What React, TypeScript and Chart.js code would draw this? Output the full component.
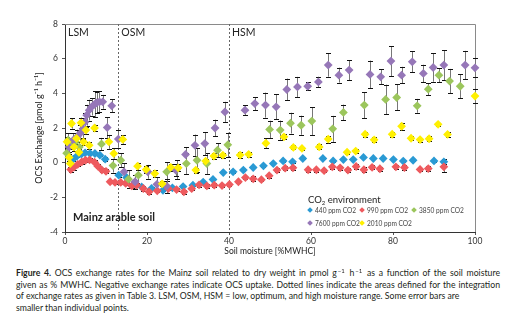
import React, { useEffect, useRef } from "react";
import { Chart, registerables } from "chart.js";
Chart.register(...registerables);

const xTicks = [0, 20, 40, 60, 80, 100];
const yTicks = [-4, -2, 0, 2, 4, 6, 8];
const zoneBounds = [13, 40];
const zoneLabels = ["LSM", "OSM", "HSM"];
const seriesNames = ["440 ppm CO2", "990 ppm CO2", "3850 ppm CO2", "7600 ppm CO2", "2010 ppm CO2"];
const seriesColors = ["#2A9AD4", "#EE5A5E", "#9CC65C", "#9677B8", "#FFF000"];

// [soil moisture %MWHC, OCS exchange, error]
const s440: number[][] = [
  [1.0, 0.3, 0.1], [2.0, 0.2, 0.1], [3.0, 0.4, 0.1], [4.0, 0.5, 0.08], [4.9, 0.57, 0.08], [6.1, 0.53, 0.05],
  [7.3, 0.53, 0.05], [8.5, 0.43, 0.05], [9.8, 0.2, 0.1], [13.1, -0.72, 0.08], [15.0, -0.85, 0.08], [16.9, -1.2, 0.08],
  [18.7, -1.4, 0.06], [21.1, -1.49, 0.06], [23.9, -1.59, 0.06], [26.2, -1.45, 0.06], [28.8, -1.38, 0.05], [31.2, -1.3, 0.05],
  [33.7, -1.12, 0.05], [36.1, -0.97, 0.05], [38.6, -0.57, 0.05], [41.0, -0.53, 0.05], [43.5, -0.43, 0.05], [45.9, -0.28, 0.05],
  [48.4, -0.18, 0.05], [50.8, -0.05, 0.05], [53.2, 0.1, 0.05], [55.5, 0.05, 0.05], [58.0, 0.24, 0.05], [62.9, 0.24, 0.05],
  [65.4, 0.1, 0.05], [67.9, 0.18, 0.05], [70.3, 0.18, 0.05], [72.8, 0.3, 0.05], [75.2, 0.24, 0.05], [77.6, 0.24, 0.05],
  [80.1, 0.18, 0.05], [82.5, 0.09, 0.05], [84.9, 0.14, 0.05], [90.0, 0.1, 0.05], [92.4, 0.05, 0.15],
];
const s990: number[][] = [
  [1.4, -0.4, 0.15], [2.2, -0.25, 0.15], [3.1, -0.1, 0.12], [4.1, 0.05, 0.1], [5.0, 0.14, 0.1], [6.0, 0.16, 0.1],
  [7.2, 0.03, 0.1], [8.0, -0.2, 0.1], [9.0, -0.43, 0.12], [10.0, -0.5, 0.12], [11.0, -1.1, 0.1], [12.2, -1.14, 0.1],
  [13.6, -1.14, 0.1], [14.8, -1.2, 0.1], [16.3, -1.34, 0.15], [17.5, -1.3, 0.1], [19.1, -1.49, 0.15], [20.5, -1.68, 0.15],
  [22.5, -1.62, 0.1], [25.2, -1.49, 0.1], [27.2, -1.55, 0.1], [29.0, -1.68, 0.1], [30.9, -1.5, 0.1], [32.7, -1.28, 0.1],
  [34.6, -1.34, 0.1], [36.4, -1.3, 0.1], [38.3, -1.32, 0.1], [40.1, -1.26, 0.1], [42.3, -1.1, 0.1], [44.0, -0.86, 0.1],
  [45.9, -0.93, 0.15], [47.9, -0.98, 0.1], [49.8, -0.75, 0.12], [51.7, -0.43, 0.1], [53.7, -0.32, 0.1], [55.6, -0.3, 0.1],
  [59.3, -0.41, 0.1], [61.3, -0.41, 0.1], [63.2, -0.46, 0.1], [65.2, -0.24, 0.1], [67.1, -0.3, 0.1], [69.0, -0.43, 0.12],
  [71.0, -0.22, 0.12], [72.9, -0.41, 0.15], [74.9, -0.27, 0.12], [76.8, -0.35, 0.12], [80.7, -0.24, 0.12], [82.8, -0.28, 0.12],
  [86.6, -0.39, 0.1], [88.6, -0.34, 0.15], [92.4, -0.24, 0.3],
];
const s3850: number[][] = [
  [0.4, 0.55, 0.3], [0.8, 1.3, 0.4], [1.5, 1.1, 0.3], [2.5, 1.2, 0.3], [3.5, 0.9, 0.3], [8.9, 1.08, 0.35],
  [11.7, -0.17, 0.4], [13.6, 0.14, 0.4], [15.5, -0.95, 0.5], [17.9, -0.72, 0.5], [24.8, -0.53, 0.55], [27.2, -0.4, 0.55],
  [29.6, -0.05, 0.6], [32.2, 0.14, 0.7], [34.6, -0.05, 0.6], [37.2, 0.72, 0.4], [39.7, 1.03, 0.7], [49.9, 1.92, 0.5],
  [52.5, 1.88, 0.55], [55.0, 2.28, 0.6], [57.6, 2.16, 0.55], [60.2, 2.4, 0.8], [65.3, 1.95, 0.75], [67.9, 2.9, 0.45],
  [73.0, 3.32, 0.75], [78.2, 3.65, 0.85], [80.9, 3.76, 0.75], [85.9, 3.28, 0.4], [88.6, 4.24, 0.35], [91.2, 5.05, 0.4],
  [93.8, 4.71, 0.7], [96.4, 4.41, 0.7],
];
const s7600: number[][] = [
  [1.0, 0.9, 0.3], [2.0, 1.3, 0.4], [3.0, 1.5, 0.4], [3.7, 1.69, 0.5], [4.4, 1.95, 0.6], [4.9, 2.35, 0.5],
  [5.3, 2.74, 0.6], [5.9, 3.03, 0.6], [6.5, 3.22, 0.5], [7.2, 3.36, 0.75], [7.7, 3.45, 0.6], [8.4, 3.51, 0.6],
  [9.2, 3.51, 0.4], [10.3, 2.03, 0.6], [11.4, 3.28, 0.38], [13.0, 1.36, 0.5], [14.4, -0.53, 0.5], [17.1, -1.1, 0.4],
  [20.2, -0.53, 0.4], [22.4, -1.25, 0.4], [24.8, -1.35, 0.4], [27.0, -0.43, 0.35], [29.4, 0.47, 0.43], [31.7, 1.0, 0.62],
  [34.1, 1.1, 0.67], [36.6, 2.0, 0.48], [39.0, 2.93, 0.58], [43.9, 3.03, 0.29], [46.3, 3.41, 0.38], [48.9, 3.32, 0.72],
  [51.5, 3.22, 0.72], [54.1, 4.22, 0.63], [56.7, 4.37, 0.58], [59.2, 4.41, 0.22], [61.8, 4.66, 0.3], [64.2, 5.63, 0.67],
  [66.8, 5.05, 0.43], [69.3, 5.34, 0.58], [74.4, 5.09, 0.8], [77.0, 4.95, 0.43], [79.5, 5.86, 0.87], [82.1, 5.05, 0.48],
  [84.7, 5.82, 0.6], [87.4, 5.15, 0.5], [89.8, 5.49, 0.82], [92.4, 5.63, 0.87], [97.6, 5.63, 0.82], [100.0, 5.47, 0.55],
];
const s2010: number[][] = [
  [0.5, 1.2, 0.3], [1.0, 0.3, 0.2], [1.3, -0.05, 0.2], [1.6, 2.26, 0.3], [2.2, 0.9, 0.2], [2.8, 1.4, 0.3],
  [3.4, 0.6, 0.2], [3.9, 2.3, 0.3], [4.5, 1.2, 0.2], [5.1, 1.88, 0.2], [5.9, 1.0, 0.2], [7.2, 2.0, 0.2],
  [10.7, 1.2, 0.4], [11.9, 0.53, 0.3], [14.1, 1.34, 0.25], [17.7, -0.2, 0.2], [19.8, -0.4, 0.2], [21.9, -0.63, 0.2],
  [23.7, -1.22, 0.15], [25.8, -0.27, 0.2], [27.6, -0.3, 0.2], [31.9, -0.43, 0.15], [34.3, 0.09, 0.15], [36.3, 0.38, 0.15],
  [38.5, 0.43, 0.15], [42.7, 0.44, 0.15], [44.8, 0.48, 0.15], [49.0, 1.12, 0.3], [53.4, 1.49, 0.15], [55.7, 0.88, 0.12],
  [57.8, 0.82, 0.1], [62.0, 0.91, 0.15], [64.2, 1.36, 0.2], [68.8, 0.6, 0.1], [70.9, 0.67, 0.1], [73.2, 1.64, 0.15],
  [75.4, 1.32, 0.15], [79.8, 1.64, 0.15], [82.1, 2.1, 0.2], [84.4, 1.41, 0.12], [86.6, 1.33, 0.12], [88.8, 1.38, 0.15],
  [91.0, 2.21, 0.1], [93.3, 1.63, 0.15], [100.0, 3.84, 0.4],
];
const series = [s440, s990, s3850, s7600, s2010];

const FONT = "Lato, 'Open Sans', sans-serif";

const overlayPlugin = {
  id: "overlay",
  beforeDatasetsDraw(chart: any) {
    const { ctx, chartArea: a, scales } = chart;
    const xs = scales.x;
    ctx.save();
    // top & right frame
    ctx.strokeStyle = "#8a8a8a";
    ctx.lineWidth = 1;
    ctx.beginPath();
    ctx.moveTo(a.left, a.top + 0.5);
    ctx.lineTo(a.right + 0.5, a.top + 0.5);
    ctx.lineTo(a.right + 0.5, a.bottom);
    ctx.stroke();
    // zone dividers
    ctx.strokeStyle = "#666";
    ctx.setLineDash([2, 2]);
    zoneBounds.forEach((b) => {
      const px = Math.round(xs.getPixelForValue(b)) + 0.5;
      ctx.beginPath();
      ctx.moveTo(px, a.top);
      ctx.lineTo(px, a.bottom);
      ctx.stroke();
    });
    ctx.setLineDash([]);
    // zone labels
    ctx.fillStyle = "#222";
    ctx.font = `10.5px ${FONT}`;
    ctx.textBaseline = "middle";
    ctx.textAlign = "left";
    const starts = [xs.min, ...zoneBounds];
    zoneLabels.forEach((t, i) => {
      ctx.fillText(t, xs.getPixelForValue(starts[i]) + 3, a.top + 9);
    });
    ctx.font = `bold 11px ${FONT}`;
    ctx.fillText("Mainz arable soil", a.left + 8, a.bottom - 15);
    // error bars
    chart.data.datasets.forEach((ds: any, di: number) => {
      const meta = chart.getDatasetMeta(di);
      const ys = scales[meta.yAxisID];
      ds.data.forEach((p: any) => {
        const x = Math.round(xs.getPixelForValue(p.x)) + 0.5;
        const y1 = ys.getPixelForValue(p.y + p.e);
        const y2 = ys.getPixelForValue(p.y - p.e);
        ctx.strokeStyle = "#777";
        ctx.lineWidth = 1;
        ctx.beginPath();
        ctx.moveTo(x, y1);
        ctx.lineTo(x, y2);
        ctx.stroke();
        ctx.strokeStyle = "#111";
        ctx.beginPath();
        ctx.moveTo(x - 2.5, Math.round(y1) + 0.5);
        ctx.lineTo(x + 2.5, Math.round(y1) + 0.5);
        ctx.moveTo(x - 2.5, Math.round(y2) + 0.5);
        ctx.lineTo(x + 2.5, Math.round(y2) + 0.5);
        ctx.stroke();
      });
    });
    ctx.restore();
  },
};

function Diamond({ color }: { color: string }) {
  return (
    <span
      style={{
        display: "inline-block",
        width: 4,
        height: 4,
        background: color,
        transform: "rotate(45deg)",
        marginRight: 3,
        verticalAlign: "middle",
        position: "relative",
        top: -1,
      }}
    />
  );
}

const Sup = ({ children }: { children: React.ReactNode }) => (
  <span style={{ fontSize: 6, position: "relative", top: -3, lineHeight: 0, margin: "0 1px" }}>{children}</span>
);

export default function App() {
  const ref = useRef<HTMLCanvasElement>(null);
  useEffect(() => {
    const canvas = ref.current!;
    const chart = new Chart(canvas, {
      type: "scatter",
      data: {
        datasets: series.map((s, i) => ({
          label: seriesNames[i],
          data: s.map(([x, y, e]) => ({ x, y, e })),
          backgroundColor: seriesColors[i],
          borderColor: seriesColors[i],
          pointStyle: "rectRot",
          pointRadius: 4.4,
          pointHoverRadius: 4.4,
          borderWidth: 0,
          clip: false,
          order: 5 - i,
        })) as any,
      },
      options: {
        responsive: false,
        animation: false,
        events: [],
        layout: { padding: { left: 0, right: 51, top: 24, bottom: 0 } },
        plugins: { legend: { display: false }, tooltip: { enabled: false } },
        scales: {
          x: {
            type: "linear",
            min: 0,
            max: 100,
            afterBuildTicks: (s: any) => {
              s.ticks = xTicks.map((v) => ({ value: v }));
            },
            afterFit: (s: any) => {
              s.height = 30;
            },
            grid: { drawOnChartArea: false, drawTicks: true, tickLength: 3, color: "#555" },
            border: { display: true, color: "#333", width: 1 },
            ticks: { font: { family: FONT, size: 8.5 }, color: "#333", padding: 1, maxRotation: 0 },
            title: {
              display: true,
              text: "Soil moisture [%MWHC]",
              font: { family: FONT, size: 8.5 },
              color: "#222",
              padding: { top: 0, bottom: 6 },
            },
          },
          y: {
            type: "linear",
            min: -4,
            max: 8,
            afterBuildTicks: (s: any) => {
              s.ticks = yTicks.map((v) => ({ value: v }));
            },
            afterFit: (s: any) => {
              s.width = 65;
            },
            grid: { drawOnChartArea: false, drawTicks: true, tickLength: 3, color: "#555" },
            border: { display: true, color: "#333", width: 1 },
            ticks: { font: { family: FONT, size: 8.5 }, color: "#333", padding: 4 },
            title: {
              display: true,
              text: "OCS Exchange [pmol g\u207B\u00B9 h\u207B\u00B9]",
              font: { family: FONT, size: 9 },
              color: "#222",
              padding: { top: 34, bottom: 0 },
            },
          },
        },
      },
      plugins: [overlayPlugin],
    } as any);
    return () => chart.destroy();
  }, []);

  const legendItem = (i: number, left: number, top: number) => (
    <div
      key={i}
      style={{ position: "absolute", left, top, fontSize: 6.6, color: "#444", whiteSpace: "nowrap", lineHeight: "8px" }}
    >
      <Diamond color={seriesColors[i]} />
      {seriesNames[i]}
    </div>
  );

  return (
    <div style={{ position: "fixed", left: 0, top: 0, width: 526, height: 326, background: "#fff", fontFamily: FONT }}>
      <canvas ref={ref} width={526} height={262} style={{ position: "absolute", left: 0, top: 0 }} />
      <div style={{ position: "absolute", left: 308, top: 194, fontSize: 9.5, color: "#222", whiteSpace: "nowrap" }}>
        CO<span style={{ fontSize: 6, position: "relative", top: 2 }}>2</span> environment
      </div>
      {legendItem(0, 308, 206)}
      {legendItem(1, 360, 206)}
      {legendItem(2, 412, 206)}
      {legendItem(3, 308, 219)}
      {legendItem(4, 360, 219)}
      <div
        style={{
          position: "absolute",
          left: 16,
          top: 267,
          width: 484,
          fontSize: 8.7,
          lineHeight: "11.5px",
          color: "#231f20",
        }}
      >
        <div style={{ whiteSpace: "nowrap", textAlign: "justify", textAlignLast: "justify" }}>
          <b>Figure 4.</b> OCS exchange rates for the Mainz soil related to dry weight in pmol g<Sup>−1</Sup> h<Sup>−1</Sup> as a
          function of the soil moisture
        </div>
        <div style={{ whiteSpace: "nowrap", textAlign: "justify", textAlignLast: "justify" }}>
          given as % MWHC. Negative exchange rates indicate OCS uptake. Dotted lines indicate the areas defined for the
          integration
        </div>
        <div style={{ whiteSpace: "nowrap" }}>
          of exchange rates as given in Table 3. LSM, OSM, HSM = low, optimum, and high moisture range. Some error bars are
        </div>
        <div style={{ whiteSpace: "nowrap" }}>smaller than individual points.</div>
      </div>
    </div>
  );
}
